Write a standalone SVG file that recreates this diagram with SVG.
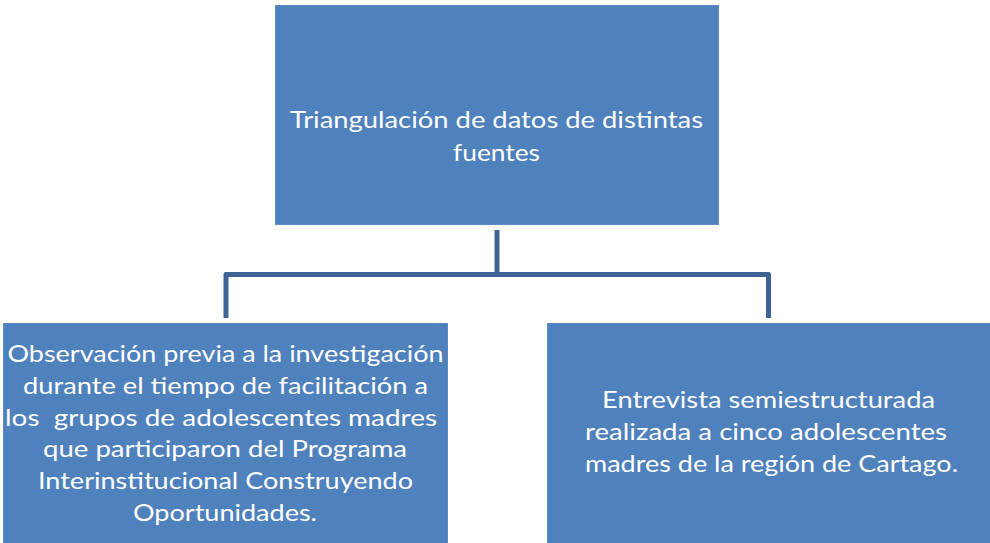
<svg xmlns="http://www.w3.org/2000/svg" width="990" height="543" viewBox="0 0 990 543">
<style>
.box{fill:#4F81BD;stroke:#5C8CC5;stroke-width:1}
.lbl{font-family:Lato,"Open Sans","Liberation Sans",sans-serif;font-size:24px;fill:#FFFFFF;text-anchor:middle}
.conn{fill:none;stroke:#3E6497;stroke-width:5;stroke-linejoin:round}
</style>
<rect width="990" height="543" fill="#FFFFFF"/>
<g id="connectors">
<path class="conn" d="M226,318 V274.5 H768.5 V318"/>
<path class="conn" d="M497,230 V274.5"/>
</g>
<g id="node-top">
<rect class="box" x="275.5" y="5.5" width="443" height="219"/>
<text class="lbl" x="496.5" y="128" textLength="413" lengthAdjust="spacingAndGlyphs">Triangulación de datos de distintas</text>
<text class="lbl" x="496.5" y="161" textLength="87" lengthAdjust="spacingAndGlyphs">fuentes</text>
</g>
<g id="node-left">
<rect class="box" x="3.5" y="323.5" width="444" height="220"/>
<text class="lbl" x="225.5" y="362" textLength="436" lengthAdjust="spacingAndGlyphs">Observación previa a la investigación</text>
<text class="lbl" x="225.5" y="394" textLength="405" lengthAdjust="spacingAndGlyphs">durante el tiempo de facilitación a</text>
<text class="lbl" x="221" y="426" textLength="432" lengthAdjust="spacingAndGlyphs" xml:space="preserve">los  grupos de adolescentes madres</text>
<text class="lbl" x="225" y="457" textLength="364" lengthAdjust="spacingAndGlyphs">que participaron del Programa</text>
<text class="lbl" x="225.5" y="489" textLength="375" lengthAdjust="spacingAndGlyphs">Interinstitucional Construyendo</text>
<text class="lbl" x="225" y="521" textLength="184" lengthAdjust="spacingAndGlyphs">Oportunidades.</text>
</g>
<g id="node-right">
<rect class="box" x="547.5" y="323.5" width="443" height="220"/>
<text class="lbl" x="768.5" y="408" textLength="333" lengthAdjust="spacingAndGlyphs">Entrevista semiestructurada</text>
<text class="lbl" x="766" y="440" textLength="362" lengthAdjust="spacingAndGlyphs">realizada a cinco adolescentes</text>
<text class="lbl" x="771.5" y="472" textLength="373" lengthAdjust="spacingAndGlyphs">madres de la región de Cartago.</text>
</g>
</svg>
